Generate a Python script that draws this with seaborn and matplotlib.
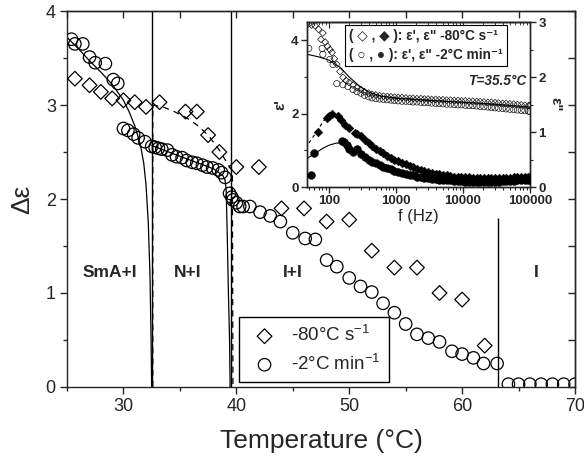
import matplotlib
matplotlib.use("Agg")
import matplotlib.pyplot as plt
import seaborn as sns
from matplotlib.ticker import MultipleLocator, LogLocator, NullFormatter, FixedLocator, FixedFormatter

# ---------------- main panel data ----------------
T_fast = [25.7, 27.0, 28.0, 29.0, 30.0, 31.0, 32.0, 33.2, 35.5, 36.5, 37.5, 38.5,
          40.0, 42.0, 44.0, 46.0, 48.0, 50.0, 52.0, 54.0, 56.0, 58.0, 60.0, 62.0]
de_fast = [3.28, 3.21, 3.14, 3.07, 3.05, 3.03, 2.98, 3.03, 2.93, 2.93, 2.68, 2.50,
           2.34, 2.34, 1.90, 1.90, 1.76, 1.78, 1.45, 1.27, 1.27, 1.00, 0.93, 0.44]

T_slow = [25.4, 25.7, 26.4, 27.0, 27.5, 28.4, 29.1, 29.5, 30.0, 30.4,
          30.9, 31.3, 31.9, 32.5, 32.8, 33.1, 33.4, 33.9, 34.3, 34.7,
          35.2, 35.6, 36.1, 36.5, 37.0, 37.4, 37.9, 38.4, 38.7, 39.0,
          39.4, 39.6, 39.7, 40.0, 40.3, 40.6, 41.2, 42.1, 43.0, 43.9,
          45.0, 46.1, 47.0, 48.0, 48.9, 50.0, 51.0, 52.0, 53.0, 54.0,
          55.0, 56.0, 57.0, 58.0, 59.1, 60.0, 61.0, 61.9, 63.1, 64.1,
          65.0, 66.0, 67.0, 68.0, 69.0, 70.0]
de_slow = [3.70, 3.65, 3.65, 3.51, 3.45, 3.44, 3.27, 3.23, 2.75, 2.73,
           2.69, 2.65, 2.61, 2.56, 2.55, 2.54, 2.53, 2.52, 2.47, 2.45,
           2.44, 2.41, 2.39, 2.38, 2.36, 2.34, 2.33, 2.31, 2.28, 2.23,
           2.06, 2.02, 1.99, 1.96, 1.92, 1.92, 1.92, 1.86, 1.82, 1.76,
           1.64, 1.58, 1.57, 1.35, 1.28, 1.16, 1.07, 1.01, 0.89, 0.79,
           0.67, 0.56, 0.52, 0.48, 0.38, 0.35, 0.31, 0.25, 0.25, 0.03,
           0.03, 0.03, 0.03, 0.03, 0.03, 0.03]

# fit curves
fitA_T = [25.0, 26.0, 27.0, 28.0, 29.0, 30.0, 30.5, 31.0, 31.5, 31.8, 32.0, 32.2, 32.35, 32.45, 32.5]
fitA_de = [3.72, 3.60, 3.47, 3.35, 3.22, 3.05, 2.93, 2.78, 2.58, 2.38, 2.15, 1.75, 1.20, 0.50, 0.0]
fitB_T = [32.5, 34.0, 36.0, 38.0, 38.8, 39.0, 39.1, 39.2, 39.3, 39.4, 39.45]
fitB_de = [2.57, 2.50, 2.41, 2.32, 2.25, 2.20, 2.10, 1.60, 1.00, 0.50, 0.0]
fitC_T = [32.6, 32.6, 33.5, 34.5, 35.5, 36.5, 37.5, 38.5, 39.2, 39.65, 39.7]
fitC_de = [0.0, 3.00, 2.98, 2.93, 2.87, 2.79, 2.68, 2.52, 2.38, 2.30, 0.0]

boundaries = [32.55, 39.5]
boundary_I = 63.2
boundary_I_top = 1.8

phase_labels = ["SmA+I", "N+I", "I+I", "I"]
phase_T = [28.8, 35.7, 45.0, 66.6]
phase_y = 1.22

legend_labels = ["-80°C s$^{-1}$", "-2°C min$^{-1}$"]

# ---------------- inset data ----------------
f_hi = [300, 340, 390, 440, 500, 570, 650, 740, 840, 950,
        1080, 1230, 1400, 1600, 1800, 2050, 2350, 2650, 3000, 3400,
        3900, 4400, 5000, 5700, 6500, 7400, 8400, 9500, 10800, 12300,
        14000, 16000, 18000, 20500, 23500, 26500, 30000, 34000, 39000, 44000,
        50000, 57000, 65000, 74000, 84000, 95000, 100000]

f_lo_e1_fast = [50, 55, 62, 70, 76, 81, 88, 95, 103, 111, 120, 131, 146, 162, 180, 200, 228, 262]
e1_fast_lo = [4.45, 4.42, 4.40, 4.30, 4.03, 4.20, 3.95, 3.84, 3.75, 3.67, 3.50, 3.35, 3.15, 2.99, 2.90, 2.85, 2.78, 2.71]
e1_fast_hi = [2.66, 2.60, 2.56, 2.53, 2.51, 2.49, 2.48, 2.47, 2.46, 2.45,
              2.44, 2.44, 2.43, 2.42, 2.42, 2.41, 2.41, 2.40, 2.40, 2.39,
              2.39, 2.38, 2.38, 2.37, 2.37, 2.36, 2.36, 2.35, 2.35, 2.34,
              2.34, 2.33, 2.33, 2.32, 2.31, 2.31, 2.30, 2.29, 2.28, 2.28,
              2.27, 2.26, 2.25, 2.24, 2.23, 2.22, 2.22]

f_lo_e1_slow = [50, 79, 81, 103, 115, 131, 162, 192, 228, 262]
e1_slow_lo = [3.78, 3.78, 3.62, 3.48, 3.34, 2.82, 2.79, 2.74, 2.66, 2.60]
e1_slow_hi = [2.56, 2.50, 2.46, 2.43, 2.41, 2.40, 2.39, 2.38, 2.37, 2.36,
              2.35, 2.34, 2.34, 2.33, 2.32, 2.32, 2.31, 2.30, 2.30, 2.29,
              2.28, 2.28, 2.27, 2.26, 2.26, 2.25, 2.24, 2.24, 2.23, 2.22,
              2.22, 2.21, 2.20, 2.19, 2.18, 2.17, 2.16, 2.15, 2.14, 2.13,
              2.12, 2.11, 2.10, 2.09, 2.08, 2.07, 2.06]

f_lo_e2_fast = [68, 93, 100, 111, 136, 150, 174, 200, 245, 262]
e2_fast_lo = [1.00, 1.25, 1.30, 1.33, 1.29, 1.22, 1.13, 1.08, 0.98, 0.96]
e2_fast_hi = [0.92, 0.86, 0.80, 0.75, 0.70, 0.65, 0.61, 0.57, 0.53, 0.50,
              0.47, 0.44, 0.41, 0.38, 0.36, 0.33, 0.31, 0.29, 0.27, 0.25,
              0.24, 0.23, 0.22, 0.21, 0.20, 0.19, 0.19, 0.18, 0.18, 0.18,
              0.17, 0.17, 0.17, 0.17, 0.17, 0.17, 0.17, 0.17, 0.17, 0.17,
              0.17, 0.18, 0.18, 0.18, 0.18, 0.19, 0.19]

f_lo_e2_slow = [54, 60, 156, 170, 185, 200, 228, 262]
e2_slow_lo = [0.22, 0.62, 0.84, 0.82, 0.76, 0.70, 0.64, 0.69]
e2_slow_hi = [0.60, 0.55, 0.50, 0.46, 0.43, 0.40, 0.37, 0.34, 0.32, 0.30,
              0.28, 0.26, 0.24, 0.22, 0.21, 0.19, 0.18, 0.17, 0.16, 0.15,
              0.14, 0.13, 0.13, 0.12, 0.12, 0.11, 0.11, 0.11, 0.10, 0.10,
              0.10, 0.10, 0.10, 0.10, 0.10, 0.10, 0.10, 0.10, 0.11, 0.11,
              0.11, 0.11, 0.12, 0.12, 0.12, 0.12, 0.12]

fit_e1_f = [47, 70, 100, 150, 200, 300, 400, 600, 1000, 3000, 10000, 30000, 100000]
fit_e1 = [3.62, 3.55, 3.46, 3.25, 3.00, 2.72, 2.58, 2.48, 2.42, 2.36, 2.31, 2.26, 2.18]
fit_e2_f = [47, 60, 80, 100, 130, 170, 220, 300, 500, 1000, 3000, 10000, 100000]
fit_e2 = [0.52, 0.60, 0.70, 0.76, 0.80, 0.79, 0.72, 0.62, 0.45, 0.30, 0.16, 0.11, 0.12]
dash_e2_f = [50, 65, 85, 110, 140, 180, 250, 400, 1000, 3000, 10000, 100000]
dash_e2 = [0.80, 1.00, 1.22, 1.33, 1.28, 1.15, 0.97, 0.78, 0.48, 0.26, 0.18, 0.19]

inset_xticks = [100, 1000, 10000, 100000]
inset_xticklabels = ["100", "1000", "10000", "100000"]
inset_legend_lines = ["( ◇ , ◆ ): ε', ε\" -80°C s⁻¹", "( ○ , ● ): ε', ε\" -2°C min⁻¹"]
inset_note = "T=35.5°C"

# ---------------- style ----------------
sns.set_style("ticks")
FAM = ["Liberation Sans", "DejaVu Sans"]
plt.rcParams["font.family"] = FAM
plt.rcParams["mathtext.fontset"] = "custom"
plt.rcParams["mathtext.rm"] = "Liberation Sans"
plt.rcParams["mathtext.it"] = "Liberation Sans:italic"
plt.rcParams["mathtext.bf"] = "Liberation Sans:bold"
plt.rcParams["axes.linewidth"] = 1.0

fig = plt.figure(figsize=(5.84, 4.57), dpi=100)
ax = fig.add_axes([0.1147, 0.1532, 0.8699, 0.8227])

# boundaries
for b in boundaries:
    ax.axvline(b, color="black", lw=1.0, zorder=1)
ax.vlines(boundary_I, 0, boundary_I_top, color="black", lw=1.0, zorder=1)

# fits
sns.lineplot(x=fitA_T, y=fitA_de, sort=False, estimator=None, color="black", lw=0.9, ax=ax, legend=False)
sns.lineplot(x=fitB_T, y=fitB_de, sort=False, estimator=None, color="black", lw=0.9, ax=ax, legend=False)
sns.lineplot(x=fitC_T, y=fitC_de, sort=False, estimator=None, color="black", lw=0.9, ax=ax,
             legend=False, linestyle=(0, (5, 4)))

sns.scatterplot(x=T_fast, y=de_fast, marker="D", s=56, facecolor="none", edgecolor="black",
                linewidth=0.9, ax=ax, label=legend_labels[0], zorder=3)
sns.scatterplot(x=T_slow, y=de_slow, marker="o", s=80, facecolor="none", edgecolor="black",
                linewidth=0.9, ax=ax, label=legend_labels[1], zorder=3)

ax.set_xlim(25, 70)
ax.set_ylim(0, 4)
ax.xaxis.set_major_locator(MultipleLocator(10))
ax.xaxis.set_minor_locator(MultipleLocator(5))
ax.yaxis.set_major_locator(MultipleLocator(1))
ax.yaxis.set_minor_locator(MultipleLocator(0.5))
ax.tick_params(which="major", direction="out", length=5, width=1, labelsize=13, pad=3)
ax.tick_params(which="minor", direction="out", length=3, width=1)
ax.set_xlabel("Temperature (°C)", fontsize=19, labelpad=10)
ax.set_ylabel("Δε", fontsize=19, labelpad=8)

secx = ax.secondary_xaxis("top")
secx.xaxis.set_major_locator(MultipleLocator(5))
secx.tick_params(direction="in", length=5, width=1, labeltop=False)
secy = ax.secondary_yaxis("right")
secy.yaxis.set_major_locator(MultipleLocator(0.5))
secy.tick_params(direction="in", length=5, width=1, labelright=False)

for lab, t in zip(phase_labels, phase_T):
    ax.text(t, phase_y, lab, ha="center", va="center", fontsize=12.5, fontweight="bold")

leg = ax.legend(loc="lower left", bbox_to_anchor=(0.339, 0.013), borderaxespad=0,
                frameon=True, fancybox=False, edgecolor="black", framealpha=1,
                fontsize=13.5, handletextpad=0.5, borderpad=0.45, labelspacing=0.45,
                handlelength=1.8)
leg.get_frame().set_linewidth(1.0)

# ---------------- inset ----------------
ins = fig.add_axes([0.5257, 0.5908, 0.3818, 0.361])
ins.set_facecolor("white")
ins2 = ins.twinx()

sns.lineplot(x=fit_e1_f, y=fit_e1, sort=False, estimator=None, color="black", lw=0.8, ax=ins, legend=False)
sns.scatterplot(x=f_lo_e1_fast + f_hi, y=e1_fast_lo + e1_fast_hi, marker="D", s=12, facecolor="none",
                edgecolor="black", linewidth=0.45, ax=ins, zorder=3)
sns.scatterplot(x=f_lo_e1_slow + f_hi, y=e1_slow_lo + e1_slow_hi, marker="o", s=20, facecolor="none",
                edgecolor="black", linewidth=0.45, ax=ins, zorder=3)

sns.lineplot(x=fit_e2_f, y=fit_e2, sort=False, estimator=None, color="black", lw=0.8, ax=ins2, legend=False)
sns.lineplot(x=dash_e2_f, y=dash_e2, sort=False, estimator=None, color="black", lw=0.8, ax=ins2,
             legend=False, linestyle=(0, (3, 3)))
sns.scatterplot(x=f_lo_e2_fast + f_hi, y=e2_fast_lo + e2_fast_hi, marker="D", s=20, color="black",
                edgecolor="black", linewidth=0.3, ax=ins2, zorder=3)
sns.scatterplot(x=f_lo_e2_slow + f_hi, y=e2_slow_lo + e2_slow_hi, marker="o", s=32, color="black",
                edgecolor="black", linewidth=0.3, ax=ins2, zorder=3)

ins.set_xscale("log")
ins.set_xlim(47, 100000)
ins.set_ylim(0, 4.5)
ins2.set_ylim(0, 3)
ins.xaxis.set_major_locator(FixedLocator(inset_xticks))
ins.xaxis.set_major_formatter(FixedFormatter(inset_xticklabels))
ins.xaxis.set_minor_locator(LogLocator(base=10, subs=[2, 3, 4, 5, 6, 7, 8, 9], numticks=20))
ins.xaxis.set_minor_formatter(NullFormatter())
ins.yaxis.set_major_locator(MultipleLocator(2))
ins.yaxis.set_minor_locator(MultipleLocator(1))
ins2.yaxis.set_major_locator(MultipleLocator(1))
ins2.yaxis.set_minor_locator(MultipleLocator(0.5))
for a in (ins, ins2):
    a.tick_params(which="major", direction="out", length=4, width=1, labelsize=9.5, pad=2)
    a.tick_params(which="minor", direction="out", length=2.5, width=0.8)
    for t in a.get_xticklabels() + a.get_yticklabels():
        t.set_fontweight("bold")
ins.set_xlabel("f (Hz)", fontsize=12, labelpad=1)
ins.set_ylabel("ε'", fontsize=11, labelpad=3, fontweight="bold")
ins2.set_ylabel('ε"', fontsize=11, rotation=270, labelpad=12, fontweight="bold")
isec = ins.secondary_xaxis("top")
isec.tick_params(which="both", direction="in", labeltop=False)
isec.tick_params(which="major", length=4)
isec.tick_params(which="minor", length=2.5)

ins.text(0.19, 0.958, "\n".join(inset_legend_lines),
         transform=ins.transAxes, ha="left", va="top", fontsize=9.8, linespacing=1.45,
         fontweight="bold", family=FAM,
         bbox=dict(boxstyle="square,pad=0.3", fc="white", ec="black", lw=0.8), zorder=5)
ins.text(0.985, 0.64, inset_note, transform=ins.transAxes, ha="right", va="center",
         fontsize=9.8, fontstyle="italic", fontweight="bold", family=FAM)

fig.savefig("out.png", dpi=100)
